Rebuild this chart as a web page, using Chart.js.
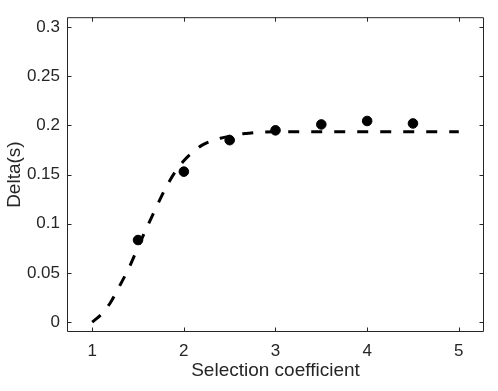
<!DOCTYPE html>
<html>
<head>
<meta charset="utf-8">
<script src="https://cdn.jsdelivr.net/npm/chart.js@4"></script>
<style>
  html, body { margin: 0; padding: 0; background: #fff; }
  #wrap { width: 498px; height: 391px; }
</style>
</head>
<body>
<div id="wrap"><canvas id="chart"></canvas></div>
<script>
// measured points
let point_s = [1.5, 2, 2.5, 3, 3.5, 4, 4.5]
let point_delta = [0.0835, 0.153, 0.185, 0.195, 0.201, 0.2045, 0.202]

// fitted curve
let curve_s = [1, 1.1, 1.2, 1.3, 1.4, 1.5, 1.6, 1.7, 1.8, 1.9, 2, 2.1, 2.2, 2.3, 2.4, 2.5, 2.6, 2.7, 2.8, 3, 3.5, 4, 4.5, 5]
let curve_delta = [0, 0.008, 0.02, 0.037, 0.055, 0.076, 0.097, 0.117, 0.136, 0.152, 0.164, 0.173, 0.18, 0.184, 0.187, 0.189, 0.191, 0.192, 0.193, 0.1935, 0.1935, 0.1935, 0.1935, 0.1935]

let x_ticks = [1, 2, 3, 4, 5]
let y_ticks = [0, 0.05, 0.1, 0.15, 0.2, 0.25, 0.3]

const axis_color = '#262626'
const font_family = '"Liberation Sans", Arial, Helvetica, sans-serif'

// matlab style box with ticks pointing inwards
const box_plugin = {
    id: 'box',
    afterDraw(chart) {
        let ctx = chart.ctx
        let a = chart.chartArea
        let x = chart.scales.x
        let y = chart.scales.y
        let len = 4.5
        ctx.save()
        ctx.strokeStyle = axis_color
        ctx.lineWidth = 1
        ctx.beginPath()
        ctx.rect(a.left + 0.5, a.top + 0.5, a.right - a.left - 1, a.bottom - a.top - 1)
        x_ticks.forEach(v => {
            let px = Math.round(x.getPixelForValue(v)) + 0.5
            ctx.moveTo(px, a.bottom)
            ctx.lineTo(px, a.bottom - len)
            ctx.moveTo(px, a.top)
            ctx.lineTo(px, a.top + len)
        })
        y_ticks.forEach(v => {
            let py = Math.round(y.getPixelForValue(v)) + 0.5
            ctx.moveTo(a.left, py)
            ctx.lineTo(a.left + len, py)
            ctx.moveTo(a.right, py)
            ctx.lineTo(a.right - len, py)
        })
        ctx.stroke()
        ctx.restore()
    }
}

let chart = document.querySelector("#chart")
new Chart(chart, {
    type: 'scatter',
    data: {
        datasets: [{
            label: 'data',
            data: point_s.map((s, i) => ({x: s, y: point_delta[i]})),
            backgroundColor: '#000',
            borderColor: '#000',
            pointRadius: 4.8,
            pointHoverRadius: 4.8,
            order: 0
        }, {
            label: 'fit',
            type: 'line',
            data: curve_s.map((s, i) => ({x: s, y: curve_delta[i]})),
            borderColor: '#000',
            borderWidth: 3,
            borderDash: [11, 12],
            pointRadius: 0,
            tension: 0.4,
            cubicInterpolationMode: 'monotone',
            fill: false,
            order: 1
        }]
    },
    options: {
        responsive: true,
        maintainAspectRatio: false,
        animation: false,
        events: [],
        layout: {
            padding: {left: 0, right: 14, top: 8, bottom: 0}
        },
        plugins: {
            legend: {display: false},
            tooltip: {enabled: false}
        },
        scales: {
            x: {
                type: 'linear',
                min: 0.725,
                max: 5.275,
                afterFit: s => { s.height = 59 },
                afterBuildTicks: s => { s.ticks = x_ticks.map(v => ({value: v})) },
                grid: {display: false, drawTicks: false},
                border: {display: false},
                ticks: {
                    color: axis_color,
                    padding: 9,
                    maxRotation: 0,
                    font: {family: font_family, size: 17},
                    callback: v => String(v)
                },
                title: {
                    display: true,
                    text: 'Selection coefficient',
                    color: axis_color,
                    font: {family: font_family, size: 19},
                    padding: {top: 0, bottom: 9}
                }
            },
            y: {
                type: 'linear',
                min: -0.01,
                max: 0.31,
                afterFit: s => { s.width = 67 },
                afterBuildTicks: s => { s.ticks = y_ticks.map(v => ({value: v})) },
                grid: {display: false, drawTicks: false},
                border: {display: false},
                ticks: {
                    color: axis_color,
                    padding: 7,
                    font: {family: font_family, size: 17},
                    callback: v => String(v)
                },
                title: {
                    display: true,
                    text: 'Delta(s)',
                    color: axis_color,
                    font: {family: font_family, size: 19},
                    padding: {top: 3, bottom: 0}
                }
            }
        }
    },
    plugins: [box_plugin]
})
</script>
</body>
</html>
